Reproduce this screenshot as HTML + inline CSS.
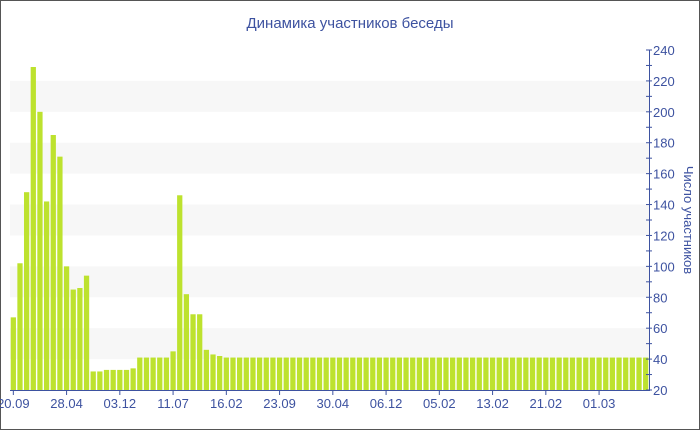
<!DOCTYPE html>
<html><head><meta charset="utf-8"><style>
html,body{margin:0;padding:0;background:#fff}
svg{display:block}
text{font-family:"Liberation Sans","DejaVu Sans",sans-serif;fill:#3d52a0}
</style></head><body>
<svg id="s" width="700" height="430" xmlns="http://www.w3.org/2000/svg">
<rect x="0.5" y="0.5" width="699" height="429" fill="#fff" stroke="#555"/>
<text x="350" y="28" font-size="15" text-anchor="middle">Динамика участников беседы</text>
<g id="bands"></g>
<g id="bars"></g>
<g id="axis"></g>
<text transform="translate(684,220) rotate(90)" font-size="13" text-anchor="middle">Число участников</text>
</svg>
<script>
var NS="http://www.w3.org/2000/svg";
function el(p,t,a,txt){var e=document.createElementNS(NS,t);for(var k in a)e.setAttribute(k,a[k]);if(txt)e.textContent=txt;document.getElementById(p).appendChild(e);}
function Y(v){return 390-(v-20)*340/220;}
var L=10,R=649;
[40,80,120,160,200].forEach(function(v){el("bands","rect",{x:L,y:Y(v+20),width:R-L,height:Y(v)-Y(v+20),fill:"#f7f7f7"});});
var vals=[67,102,148,229,200,142,185,171,100,85,86,94,32,32,33,33,33,33,34,41,41,41,41,41,45,146,82,69,69,46,43,42];
var N=96;while(vals.length<N)vals.push(41);
var w=(R-L)/N;
for(var i=0;i<N;i++){el("bars","rect",{x:L+i*w+0.7,y:Y(vals[i]),width:w-1.4,height:390-Y(vals[i]),fill:"#bde22e"});}
el("axis","line",{x1:L,y1:390.5,x2:R,y2:390.5,stroke:"#3d52a0","stroke-width":1});
el("axis","line",{x1:R+0.5,y1:50,x2:R+0.5,y2:391,stroke:"#3d52a0","stroke-width":1});
for(var v=20;v<=240;v+=10){var y=Y(v);el("axis","line",{x1:R-3,y1:y,x2:R+3,y2:y,stroke:"#3d52a0"});if(v%20==0)el("axis","text",{x:R+4,y:y+5,"font-size":"13"},""+v);}
var labs=["20.09","28.04","03.12","11.07","16.02","23.09","30.04","06.12","05.02","13.02","21.02","01.03"];
for(var j=0;j<labs.length;j++){var x=L+w*(0.5+8*j);el("axis","line",{x1:x,y1:390,x2:x,y2:395,stroke:"#3d52a0"});el("axis","text",{x:x,y:408,"font-size":"13","text-anchor":"middle"},labs[j]);}
</script>
</body></html>
